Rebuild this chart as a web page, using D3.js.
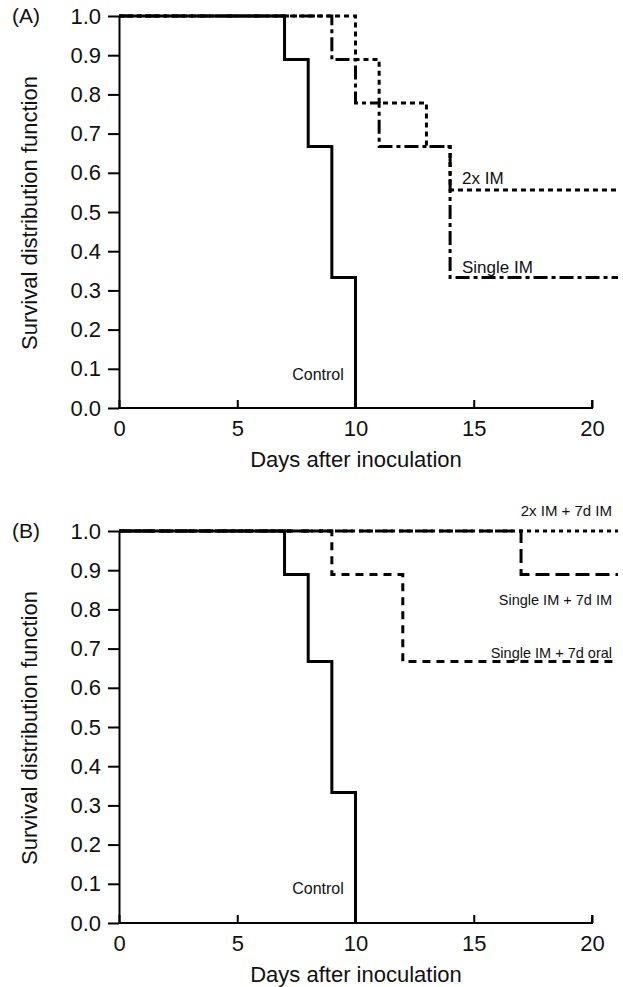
<!DOCTYPE html>
<html>
<head>
<meta charset="utf-8">
<script src="https://cdn.jsdelivr.net/npm/d3@7"></script>
<style>
body { margin: 0; background: #fff; }
text { font-family: "Liberation Sans", Arial, sans-serif; fill: #111; }
</style>
</head>
<body>
<script>
// days / survival steps (9 animals per group)
var xTicks = [0, 5, 10, 15, 20];
var yTicks = [0, 0.1, 0.2, 0.3, 0.4, 0.5, 0.6, 0.7, 0.8, 0.9, 1.0];
var endDay = 21.1;

var controlDays = [0, 7, 8, 9, 10];
var controlSurv = [1.0, 0.889, 0.667, 0.333, 0];

var singleImDays = [0, 9, 10, 11, 14, endDay];
var singleImSurv = [1.0, 0.889, 0.778, 0.667, 0.333, 0.333];

var twoImDays = [0, 10, 11, 13, 14, endDay];
var twoImSurv = [1.0, 0.889, 0.778, 0.667, 0.556, 0.556];

var twoIm7dDays = [0, endDay];
var twoIm7dSurv = [1.0, 1.0];

var singleIm7dDays = [0, 17, endDay];
var singleIm7dSurv = [1.0, 0.889, 0.889];

var singleOralDays = [0, 9, 12, endDay];
var singleOralSurv = [1.0, 0.889, 0.667, 0.667];

var W = 623, H = 987;
var svg = d3.select("body").append("svg").attr("width", W).attr("height", H);

function toPts(days, surv) {
	return days.map(function (d, i) { return [d, surv[i]]; });
}

function panel(top, letter, series, labels) {
	var x = d3.scaleLinear().domain([0, 20]).range([119, 592]);
	var y = d3.scaleLinear().domain([0, 1]).range([top + 392, top]);
	var g = svg.append("g");

	var line = d3.line().x(function (d) { return x(d[0]); }).y(function (d) { return y(d[1]); })
		.curve(d3.curveStepAfter);

	// curves first, solid control goes last so it sits on top
	series.forEach(function (s) {
		g.append("path")
			.attr("d", line(s.pts))
			.attr("fill", "none")
			.attr("stroke", "#000")
			.attr("stroke-width", 3)
			.attr("stroke-dasharray", s.dash);
	});

	var ya = g.append("g").attr("transform", "translate(119,0)")
		.call(d3.axisLeft(y).tickValues(yTicks).tickFormat(d3.format(".1f")).tickSize(11).tickSizeOuter(0));
	var xa = g.append("g").attr("transform", "translate(0," + (top + 392) + ")")
		.call(d3.axisBottom(x).tickValues(xTicks).tickSize(-8).tickSizeOuter(0).tickPadding(12));

	[ya, xa].forEach(function (a) {
		a.select(".domain").attr("stroke", "#000").attr("stroke-width", 2);
		a.selectAll(".tick line").attr("stroke", "#000").attr("stroke-width", 2);
		a.selectAll("text").style("font-family", "Liberation Sans, Arial, sans-serif")
			.style("font-size", "22px").attr("fill", "#111");
	});
	ya.selectAll("text").attr("x", -18);
	xa.select(".domain").attr("d", "M119,0H592V-8");

	g.append("text").attr("x", 12).attr("y", top + 7).style("font-size", "21px").text(letter);

	g.append("text")
		.attr("transform", "translate(37," + (top + 197) + ") rotate(-90)")
		.attr("text-anchor", "middle").style("font-size", "22px")
		.text("Survival distribution function");

	g.append("text").attr("x", 356).attr("y", top + 451)
		.attr("text-anchor", "middle").style("font-size", "22px")
		.text("Days after inoculation");

	labels.forEach(function (l) {
		g.append("text").attr("x", l.x).attr("y", l.y).attr("text-anchor", l.anchor)
			.style("font-size", l.size + "px").text(l.text);
	});
}

panel(16, "(A)", [
	{ pts: toPts(twoImDays, twoImSurv), dash: "5,4" },
	{ pts: toPts(singleImDays, singleImSurv), dash: "14,4,4,4" },
	{ pts: toPts(controlDays, controlSurv), dash: null }
], [
	{ text: "2x IM", x: 462, y: 184, anchor: "start", size: 17 },
	{ text: "Single IM", x: 462, y: 273, anchor: "start", size: 17 },
	{ text: "Control", x: 318, y: 380, anchor: "middle", size: 16 }
]);

panel(531, "(B)", [
	{ pts: toPts(twoIm7dDays, twoIm7dSurv), dash: "4,4" },
	{ pts: toPts(singleIm7dDays, singleIm7dSurv), dash: "14,6" },
	{ pts: toPts(singleOralDays, singleOralSurv), dash: "8,6" },
	{ pts: toPts(controlDays, controlSurv), dash: null }
], [
	{ text: "2x IM + 7d IM", x: 612, y: 516, anchor: "end", size: 15 },
	{ text: "Single IM + 7d IM", x: 612, y: 605, anchor: "end", size: 14.5 },
	{ text: "Single IM + 7d oral", x: 612, y: 658, anchor: "end", size: 14.5 },
	{ text: "Control", x: 318, y: 894, anchor: "middle", size: 16 }
]);
</script>
</body>
</html>
